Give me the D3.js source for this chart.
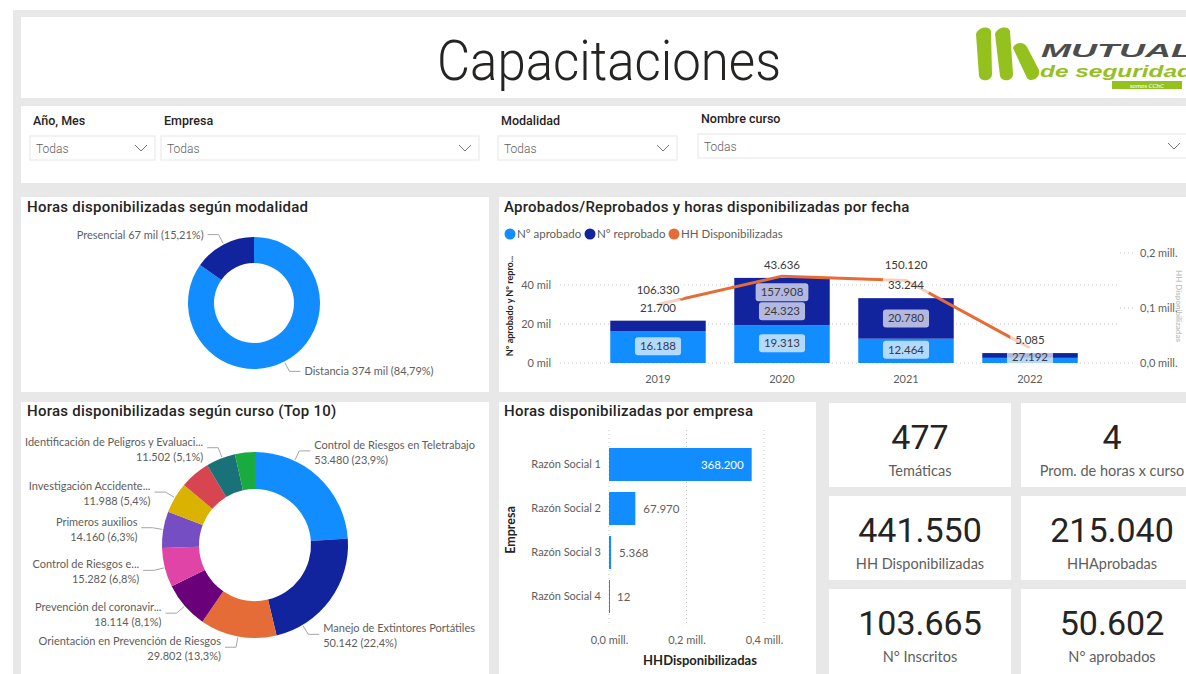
<!DOCTYPE html>
<html>
<head>
<meta charset="utf-8">
<script src="https://cdn.jsdelivr.net/npm/d3@7"></script>
<style>
  body { margin: 0; background: #fff; }
  svg { display: block; }
</style>
</head>
<body>
<div id="dash"></div>
<script>
// ---- data ----
const filtros = ["Año, Mes", "Empresa", "Modalidad", "Nombre curso"];
const filtroValor = "Todas";

const modalidades = ["Distancia", "Presencial"];
const horasModalidad = [374390, 67160];

const anios = ["2019", "2020", "2021", "2022"];
const aprobados = [16188, 19313, 12464, 2637];
const reprobados = [5512, 24323, 20780, 2448];
const hhPorAnio = [106330, 157908, 150120, 27192];
const hhLabelPos = ["above", "below", "above", "below"];
const leftTicks = [0, 20000, 40000];
const rightTicks = [0, 100000, 200000];

const cursos = [
  "Control de Riesgos en Teletrabajo",
  "Manejo de Extintores Portátiles",
  "Orientación en Prevención de Riesgos",
  "Prevención del coronavir...",
  "Control de Riesgos e...",
  "Primeros auxilios",
  "Investigación Accidente...",
  "Inducción Hombre Nuevo...",
  "Identificación de Peligros y Evaluaci...",
  "Ergonomía en el Trabajo..."
];
const horasCurso = [53480, 50142, 29802, 18114, 15282, 14160, 11988, 11720, 11502, 7750];

const empresas = ["Razón Social 1", "Razón Social 2", "Razón Social 3", "Razón Social 4"];
const horasEmpresa = [368200, 67970, 5368, 12];
const empresaTicks = [0, 200000, 400000];

const kpiValores = [477, 4, 441550, 215040, 103665, 50602];
const kpiEtiquetas = ["Temáticas", "Prom. de horas x curso", "HH Disponibilizadas", "HHAprobadas", "N° Inscritos", "N° aprobados"];

const pbiColors = ["#118DFF", "#12239E", "#E66C37", "#6B007B", "#E044A7", "#744EC2", "#D9B300", "#D64550", "#197278", "#1AAB40"];

// ---- setup ----
const W = 1186, H = 674;
const DIN = "Roboto, 'Open Sans', sans-serif";
const SEG = "Lato, 'Open Sans', sans-serif";
const TXT = "#252423", GRAY = "#605E5C";

const es = d3.formatLocale({decimal: ",", thousands: ".", grouping: [3], currency: ["$", ""]});
const fInt = es.format(",.0f");
const fPct1 = es.format(".1f");
const fPct2 = es.format(".2f");
const fMill = v => es.format(".1f")(v / 1e6) + " mill.";
const fMil = v => fInt(v / 1000) + " mil";

const svg = d3.select("#dash").append("svg")
  .attr("width", W)
  .attr("height", H);

svg.append("rect")
  .attr("x", 13).attr("y", 10)
  .attr("width", W - 13).attr("height", H - 10)
  .attr("fill", "#e8e8e8");

function panel(x, y, w, h) {
  svg.append("rect").attr("x", x).attr("y", y).attr("width", w).attr("height", h).attr("fill", "#fff");
}
function title(x, y, t) {
  svg.append("text").attr("x", x).attr("y", y)
    .style("font-family", DIN).style("font-size", "15px").style("font-weight", 500)
    .style("letter-spacing", "0.25px")
    .attr("fill", TXT).text(t);
}

// ---- header ----
panel(21, 17, W - 21, 81);
svg.append("text")
  .attr("x", 609).attr("y", 80)
  .attr("text-anchor", "middle")
  .attr("textLength", 344).attr("lengthAdjust", "spacingAndGlyphs")
  .style("font-family", "Roboto, sans-serif").style("font-size", "56px").style("font-weight", 300)
  .attr("fill", TXT)
  .text("Capacitaciones");

// logo
const logo = svg.append("g");
const lime = "#95c11f";
const logoShapes = [
  "M976,34 C978,27 989,25 991,31 L992,74 C992,81 981,83 979,76 Z",
  "M995,34 C997,27 1008,25 1010,31 L1013,74 C1013,81 1002,83 1000,76 Z",
  "M1013,48 C1015,42 1024,41 1027,47 L1039,70 C1041,78 1031,83 1027,78 Z"
];
logoShapes.forEach(d => {
  logo.append("path").attr("d", d).attr("fill", lime);
});
logo.append("text").attr("x", 1041).attr("y", 57)
  .attr("textLength", 152).attr("lengthAdjust", "spacingAndGlyphs")
  .style("font-family", "'Liberation Sans', sans-serif").style("font-size", "19px")
  .style("font-weight", "bold").style("font-style", "italic")
  .attr("fill", "#4d4d4d").text("MUTUAL");
logo.append("text").attr("x", 1040).attr("y", 77)
  .attr("textLength", 152).attr("lengthAdjust", "spacingAndGlyphs")
  .style("font-family", "'Liberation Sans', sans-serif").style("font-size", "17px")
  .style("font-weight", "bold").style("font-style", "italic")
  .attr("fill", lime).text("de seguridad");
logo.append("rect").attr("x", 1112).attr("y", 81).attr("width", 70).attr("height", 8).attr("fill", lime);
logo.append("text").attr("x", 1147).attr("y", 87.5).attr("text-anchor", "middle")
  .style("font-family", SEG).style("font-size", "6.5px").style("font-style", "italic")
  .attr("fill", "#fff").text("somos CChC");

// ---- filters ----
panel(21, 106, W - 21, 77);
const slicer = {x: [30, 161, 498, 698], w: [125, 318, 179, 490], ly: [125, 125, 125, 123], by: [136, 136, 136, 134]};
filtros.forEach((f, i) => {
  const g = svg.append("g");
  g.append("text").attr("x", slicer.x[i] + 3).attr("y", slicer.ly[i])
    .style("font-family", DIN).style("font-size", "12.5px").style("font-weight", 500)
    .attr("fill", TXT).text(f);
  g.append("rect").attr("x", slicer.x[i]).attr("y", slicer.by[i])
    .attr("width", slicer.w[i]).attr("height", 24)
    .attr("fill", "#fff").attr("stroke", "#e6e6e6");
  g.append("text").attr("x", slicer.x[i] + 6).attr("y", slicer.by[i] + 17)
    .style("font-family", DIN).style("font-size", "12px").style("font-weight", 300)
    .attr("fill", GRAY).text(filtroValor);
  const cx = slicer.x[i] + slicer.w[i] - 14, cy = slicer.by[i] + 12;
  g.append("path").attr("d", `M${cx - 6},${cy - 3}L${cx},${cy + 3}L${cx + 6},${cy - 3}`)
    .attr("fill", "none").attr("stroke", "#777").attr("stroke-width", 1);
});

// ---- donut helper ----
function donut(values, names, opt) {
  const arcs = d3.pie().sort(null).value(d => d)(values);
  const arc = d3.arc().innerRadius(opt.ri).outerRadius(opt.r);
  const g = svg.append("g").attr("transform", `translate(${opt.cx},${opt.cy})`);
  g.selectAll("path.slice").data(arcs).join("path")
    .attr("class", "slice")
    .attr("d", arc)
    .attr("fill", (d, i) => pbiColors[i]);

  const total = d3.sum(values);
  const rE = opt.r + 11;
  const placed = {left: [], right: []};
  arcs.forEach((a, i) => {
    let ang = (a.startAngle + a.endAngle) / 2;
    const side = Math.sin(ang) >= 0 ? "right" : "left";
    const sgn = side === "right" ? 1 : -1;
    const lines = opt.lines(names[i], values[i], total);
    const t = g.append("text")
      .attr("text-anchor", side === "right" ? "start" : "end")
      .style("font-family", SEG).style("font-size", "11px")
      .attr("fill", GRAY);
    lines.forEach(l => t.append("tspan").text(l));
    let w = 0;
    t.selectAll("tspan").each(function() { w = Math.max(w, this.getComputedTextLength()); });

    // keep the label inside the panel, sliding along the slice
    let ex = rE * Math.sin(ang);
    const lim = side === "right" ? opt.right - opt.cx - 14 - w - 15 : opt.left - opt.cx + 4 + w + 15;
    if (sgn * ex > sgn * lim) {
      const s = Math.max(-1, Math.min(1, lim / rE));
      const upper = Math.cos(ang) > 0;
      let na = Math.asin(s);
      if (!upper) na = Math.PI - na;
      if (na < 0) na += 2 * Math.PI;
      ang = Math.max(a.startAngle + 0.03, Math.min(a.endAngle - 0.03, na));
      ex = rE * Math.sin(ang);
    }
    const ey = -rE * Math.cos(ang);
    if (placed[side].some(p => Math.abs(p - ey) < opt.gap)) { t.remove(); return; }
    placed[side].push(ey);

    const sx = (opt.r + 1) * Math.sin(ang), sy = -(opt.r + 1) * Math.cos(ang);
    g.insert("path", "text")
      .attr("d", `M${sx},${sy}L${ex},${ey}L${ex + sgn * 11},${ey}`)
      .attr("fill", "none").attr("stroke", "#a6a6a6").attr("stroke-width", 1);
    const tx = ex + sgn * 15;
    t.selectAll("tspan")
      .attr("x", tx)
      .attr("y", (d, k) => lines.length === 1 ? ey + 4 : ey - 2 + k * 15);
  });
}

// ---- panel A: modalidad ----
panel(21, 197, 468, 195);
title(27, 212, "Horas disponibilizadas según modalidad");
donut(horasModalidad, modalidades, {
  cx: 254, cy: 303, r: 66, ri: 40, left: 21, right: 489, gap: 20,
  lines: (n, v, t) => [`${n} ${fMil(v)} (${fPct2(v / t * 100)}%)`]
});

// ---- panel C: cursos ----
panel(21, 402, 468, 272);
title(27, 416, "Horas disponibilizadas según curso (Top 10)");
donut(horasCurso, cursos, {
  cx: 255, cy: 545, r: 93, ri: 56, left: 21, right: 489, gap: 30,
  lines: (n, v, t) => [n, `${fInt(v)} (${fPct1(v / t * 100)}%)`]
});

// ---- panel B: combo chart ----
panel(499, 197, W - 499, 195);
title(504, 212, "Aprobados/Reprobados y horas disponibilizadas por fecha");

const legend = [["N° aprobado", pbiColors[0]], ["N° reprobado", pbiColors[1]], ["HH Disponibilizadas", pbiColors[2]]];
const legX = [510, 590, 674];
legend.forEach((l, i) => {
  svg.append("circle").attr("cx", legX[i]).attr("cy", 234).attr("r", 5.5).attr("fill", l[1]);
  svg.append("text").attr("x", legX[i] + 7).attr("y", 238)
    .style("font-family", SEG).style("font-size", "11.5px").attr("fill", GRAY).text(l[0]);
});

const x = d3.scaleBand().domain(anios).range([596, 1092]).paddingInner(0.23).paddingOuter(0.115);
const yL = d3.scaleLinear().domain([0, 56400]).range([363, 253]);
const yR = d3.scaleLinear().domain([0, 200000]).range([363, 253]);

const combo = svg.append("g");
// gridlines
combo.append("g").selectAll("line").data(leftTicks).join("line")
  .attr("x1", 560).attr("x2", 1120)
  .attr("y1", d => yL(d)).attr("y2", d => yL(d))
  .attr("stroke", "#c8c8c8").attr("stroke-dasharray", "1,3");
combo.append("g").selectAll("line").data(rightTicks).join("line")
  .attr("x1", 1120).attr("x2", 1133)
  .attr("y1", d => yR(d)).attr("y2", d => yR(d))
  .attr("stroke", "#c8c8c8").attr("stroke-dasharray", "1,3");

const axisL = combo.append("g").attr("transform", "translate(555,0)")
  .call(d3.axisLeft(yL).tickValues(leftTicks).tickFormat(fMil).tickSize(0).tickPadding(4));
const axisR = combo.append("g").attr("transform", "translate(1136,0)")
  .call(d3.axisRight(yR).tickValues(rightTicks).tickFormat(fMill).tickSize(0).tickPadding(4));
const axisX = combo.append("g").attr("transform", "translate(0,367)")
  .call(d3.axisBottom(x).tickSize(0).tickPadding(8));
[axisL, axisR, axisX].forEach(a => {
  a.select(".domain").remove();
  a.selectAll("text").style("font-family", SEG).style("font-size", "11px").attr("fill", GRAY);
});

combo.append("text")
  .attr("transform", "translate(513,306) rotate(-90)")
  .attr("text-anchor", "middle")
  .style("font-family", SEG).style("font-size", "9px").style("font-weight", "bold")
  .attr("fill", TXT).text("N° aprobado y N° repro...");
combo.append("text")
  .attr("transform", "translate(1176,306) rotate(90)")
  .attr("text-anchor", "middle")
  .style("font-family", SEG).style("font-size", "8px").style("font-weight", "bold")
  .attr("fill", "#c4c4c4").text("HH Disponibilizadas");

const stackRows = anios.map((a, i) => ({anio: a, aprobado: aprobados[i], reprobado: reprobados[i]}));
const stacked = d3.stack().keys(["aprobado", "reprobado"])(stackRows);
combo.append("g").selectAll("g").data(stacked).join("g")
  .attr("fill", (d, i) => pbiColors[i])
  .selectAll("rect").data(d => d).join("rect")
  .attr("x", d => x(d.data.anio))
  .attr("width", x.bandwidth())
  .attr("y", d => yL(d[1]))
  .attr("height", d => yL(d[0]) - yL(d[1]));

const line = d3.line().x((d, i) => x(anios[i]) + x.bandwidth() / 2).y(d => yR(d));
combo.append("path").datum(hhPorAnio)
  .attr("d", line)
  .attr("fill", "none").attr("stroke", pbiColors[2]).attr("stroke-width", 3);

const labels = combo.append("g");
function boxLabel(cx, cy, t) {
  const g = labels.append("g");
  const tx = g.append("text").attr("x", cx).attr("y", cy + 4).attr("text-anchor", "middle")
    .style("font-family", SEG).style("font-size", "11.5px").attr("fill", "#3b3a39").text(t);
  const w = tx.node().getComputedTextLength();
  g.insert("rect", "text").attr("x", cx - w / 2 - 5).attr("y", cy - 9)
    .attr("width", w + 10).attr("height", 18).attr("rx", 3)
    .attr("fill", "#fff").attr("fill-opacity", 0.68);
}
anios.forEach((a, i) => {
  const cx = x(a) + x.bandwidth() / 2;
  const top = yL(aprobados[i] + reprobados[i]);
  const mid = yL(aprobados[i]);
  // line label
  const py = yR(hhPorAnio[i]);
  let ly = hhLabelPos[i] === "above" ? py - 15 : py + 16;
  ly = Math.min(ly, yR(0) - 6);
  // segment labels
  if (yL(0) - mid >= 18) boxLabel(cx, (yL(0) + mid) / 2 - 1, fInt(aprobados[i]));
  if (mid - top >= 18) {
    let ry = (mid + top) / 2;
    if (Math.abs(ry - ly) < 18) ry = ly + 19;
    boxLabel(cx, ry, fInt(reprobados[i]));
  }
  boxLabel(cx, top - 13, fInt(aprobados[i] + reprobados[i]));
  boxLabel(cx, ly, fInt(hhPorAnio[i]));
});

// ---- panel D: empresa bars ----
panel(499, 402, 317, 272);
title(504, 416, "Horas disponibilizadas por empresa");
const bx = d3.scaleLinear().domain([0, 400000]).range([609, 764]);
const by = d3.scaleBand().domain(empresas).range([442.5, 618.5]).paddingInner(0.25).paddingOuter(0.125);
const bars = svg.append("g");
bars.append("g").selectAll("line").data(empresaTicks).join("line")
  .attr("x1", d => bx(d)).attr("x2", d => bx(d))
  .attr("y1", 430).attr("y2", 626)
  .attr("stroke", "#c8c8c8").attr("stroke-dasharray", "1,3");
const bAxisX = bars.append("g").attr("transform", "translate(0,630)")
  .call(d3.axisBottom(bx).tickValues(empresaTicks).tickFormat(fMill).tickSize(0).tickPadding(6));
const bAxisY = bars.append("g").attr("transform", "translate(605,0)")
  .call(d3.axisLeft(by).tickSize(0).tickPadding(4));
[bAxisX, bAxisY].forEach(a => {
  a.select(".domain").remove();
  a.selectAll("text").style("font-family", SEG).style("font-size", "11px").attr("fill", GRAY);
});
bars.selectAll("rect.bar").data(horasEmpresa).join("rect")
  .attr("class", "bar")
  .attr("x", bx(0))
  .attr("y", (d, i) => by(empresas[i]))
  .attr("width", d => Math.max(1, bx(d) - bx(0)))
  .attr("height", by.bandwidth())
  .attr("fill", pbiColors[0]);
horasEmpresa.forEach((v, i) => {
  const t = bars.append("text")
    .attr("y", by(empresas[i]) + by.bandwidth() / 2 + 4)
    .style("font-family", SEG).style("font-size", "11.5px")
    .text(fInt(v));
  const w = t.node().getComputedTextLength();
  if (bx(v) - bx(0) > w + 16) {
    t.attr("x", bx(v) - 8).attr("text-anchor", "end").attr("fill", "#fff");
  } else {
    t.attr("x", bx(v) + 8).attr("fill", GRAY);
  }
});
bars.append("text").attr("x", 700).attr("y", 665).attr("text-anchor", "middle")
  .style("font-family", SEG).style("font-size", "13px").style("font-weight", "bold")
  .attr("fill", TXT).text("HHDisponibilizadas");
bars.append("text").attr("transform", "translate(515,530) rotate(-90)").attr("text-anchor", "middle")
  .style("font-family", SEG).style("font-size", "12.5px").style("font-weight", "bold")
  .attr("fill", TXT).text("Empresa");

// ---- KPI cards ----
const cardX = [829, 1021], cardY = [403, 496, 589], cardW = 182, cardH = [84, 84, 90];
kpiValores.forEach((v, i) => {
  const cx = cardX[i % 2], cy = cardY[Math.floor(i / 2)];
  panel(cx, cy, cardW, cardH[Math.floor(i / 2)]);
  svg.append("text").attr("x", cx + cardW / 2).attr("y", cy + 46).attr("text-anchor", "middle")
    .style("font-family", DIN).style("font-size", "34px")
    .attr("fill", TXT).text(fInt(v));
  svg.append("text").attr("x", cx + cardW / 2).attr("y", cy + 73).attr("text-anchor", "middle")
    .style("font-family", SEG).style("font-size", "14.5px")
    .attr("fill", GRAY).text(kpiEtiquetas[i]);
});
</script>
</body>
</html>
